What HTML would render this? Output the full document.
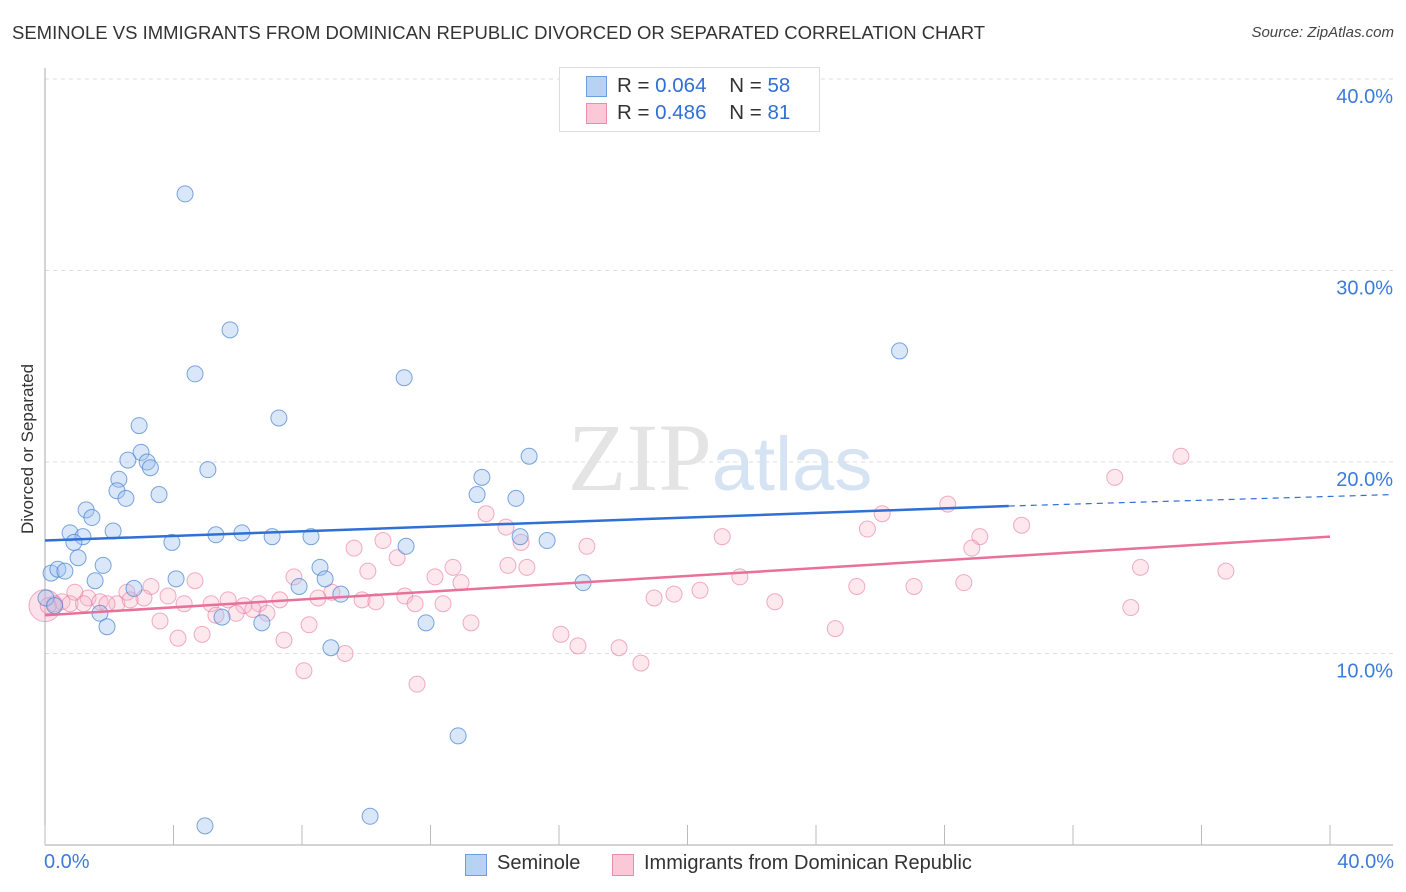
<!DOCTYPE html>
<html><head><meta charset="utf-8"><style>
body{margin:0;background:#fff;font-family:"Liberation Sans",sans-serif;}
#wrap{position:relative;width:1406px;height:892px;overflow:hidden;}
.t{position:absolute;white-space:nowrap;}
</style></head><body>
<div id="wrap">
<div class="t" style="left:12px;top:22px;font-size:18.5px;color:#333;">SEMINOLE VS IMMIGRANTS FROM DOMINICAN REPUBLIC DIVORCED OR SEPARATED CORRELATION CHART</div>
<div class="t" style="right:12px;top:24px;font-size:15px;color:#444;font-style:italic;">Source: ZipAtlas.com</div>
<svg id="svg" width="1406" height="892" style="position:absolute;left:0;top:0"></svg>
</div>
<script>
const blueX=[4.36,5.76,4.67,11.18,26.6,7.28,2.93,2.99,2.58,3.18,3.28,5.07,15.07,13.6,2.30,2.24,2.52,3.55,13.45,14.66,1.28,1.46,2.12,0.78,1.18,0.90,5.32,6.13,7.07,8.28,3.95,14.79,15.63,11.24,1.03,1.81,0.19,0.40,0.62,1.56,4.08,8.56,8.72,7.91,9.21,16.75,2.77,1.71,1.93,5.51,6.75,11.86,8.90,12.86,4.98,10.12,0.03,0.3];
const blueY=[34.0,26.9,24.6,24.4,25.8,22.3,21.9,20.5,20.1,20.0,19.7,19.6,20.3,19.2,19.1,18.5,18.1,18.3,18.3,18.1,17.5,17.1,16.4,16.3,16.1,15.8,16.2,16.3,16.1,16.1,15.8,16.1,15.9,15.6,15.0,14.6,14.2,14.4,14.3,13.8,13.9,14.5,13.9,13.5,13.1,13.7,13.4,12.1,11.4,11.9,11.6,11.6,10.3,5.7,1.0,1.5,12.9,12.5];
const pinkX=[35.36,33.3,28.1,26.06,25.6,30.4,29.1,28.85,21.08,13.73,14.35,14.82,16.87,10.52,9.62,10.96,14.41,15.0,12.70,10.05,12.14,12.95,7.75,34.1,36.76,21.63,28.6,27.05,25.27,20.39,19.58,18.96,22.72,33.8,24.6,8.93,11.2,7.31,8.5,9.87,10.3,11.52,12.39,4.67,3.30,2.55,3.83,3.08,1.34,0.93,1.71,2.24,1.93,5.70,6.66,4.33,5.17,6.19,6.47,6.91,5.95,5.32,3.58,8.22,13.26,4.14,4.89,7.44,16.06,16.59,17.87,18.55,9.34,8.06,11.58,0.53,0.78,0.3,1.2,2.65,0.1];
const pinkY=[20.3,19.2,17.8,17.3,16.5,16.7,16.1,15.5,16.1,17.3,16.6,15.8,15.6,15.9,15.5,15.0,14.6,14.5,14.5,14.3,14.0,13.7,14.0,14.5,14.3,14.0,13.7,13.5,13.5,13.3,13.1,12.9,12.7,12.4,11.3,13.2,13.0,12.8,12.9,12.8,12.7,12.6,12.6,13.8,13.5,13.2,13.0,12.9,12.9,13.2,12.7,12.6,12.6,12.8,12.6,12.6,12.6,12.5,12.3,12.1,12.1,12.0,11.7,11.5,11.6,10.8,11.0,10.7,11.0,10.4,10.3,9.5,10.0,9.1,8.4,12.7,12.6,12.6,12.6,12.8,12.5];
const yTicks=[10,20,30,40];
const blueLine=[15.9,17.7,18.3];
const pinkLine=[12.0,16.1];
const svg=document.getElementById('svg');const NS='http://www.w3.org/2000/svg';
const X=v=>45+v/40*1285, Y=v=>845-v/10*191.5;
function el(t,a,p){const e=document.createElementNS(NS,t);for(const k in a)e.setAttribute(k,a[k]);(p||svg).appendChild(e);return e;}
yTicks.forEach(v=>{const g=el('line',{x1:45,x2:1393,y1:Y(v),y2:Y(v),stroke:'#ddd','stroke-dasharray':'4,4'});


const t=el('text',{x:1393,y:Y(v)+24,'text-anchor':'end','font-size':20,fill:'#3d7bd9','font-family':'Liberation Sans'});t.textContent=v.toFixed(1)+'%';

});
el('line',{x1:45,x2:45,y1:68,y2:845,stroke:'#aaa'});
el('line',{x1:45,x2:1393,y1:845,y2:845,stroke:'#aaa'});
for(let i=0;i<=10;i++){const x=X(i*4);el('line',{x1:x,x2:x,y1:825,y2:845,stroke:'#bbb'});}
const wm=el('text',{x:720,y:490,'text-anchor':'middle','font-size':96,'font-family':'Liberation Serif',fill:'#e4e4e4'});wm.innerHTML='ZIP<tspan fill="#d6e3f3" font-family="Liberation Sans" font-size="76">atlas</tspan>';


el('circle',{cx:X(0),cy:Y(12.5),r:16,fill:'rgba(246,170,195,0.35)',stroke:'rgba(230,120,160,0.6)'});
pinkX.forEach((x,i)=>{const c=el('circle',{cx:X(x),cy:Y(pinkY[i]),r:8,fill:'rgba(248,180,200,0.3)',stroke:'rgba(232,120,160,0.6)','stroke-width':1});

});
blueX.forEach((x,i)=>{const c=el('circle',{cx:X(x),cy:Y(blueY[i]),r:8,fill:'rgba(160,195,240,0.4)',stroke:'rgba(70,130,210,0.7)','stroke-width':1});

});
const bl=el('line',{x1:X(0),y1:Y(blueLine[0]),x2:X(30),y2:Y(blueLine[1]),stroke:'#2f6fd6','stroke-width':2.5});


el('line',{x1:X(30),y1:Y(blueLine[1]),x2:1393,y2:Y(blueLine[2]),stroke:'#2f6fd6','stroke-width':1.2,'stroke-dasharray':'6,5'});
const pl=el('line',{x1:X(0),y1:Y(pinkLine[0]),x2:X(40),y2:Y(pinkLine[1]),stroke:'#e8709a','stroke-width':2.5});


</script>
<div class="t" style="left:-52px;top:444px;transform:rotate(-90deg);font-size:17px;color:#333;width:160px;text-align:center;">Divorced or Separated</div>
<div class="t" style="left:44px;top:851px;font-size:20px;color:#3d7bd9;">0.0%</div>
<div class="t" style="right:12px;top:851px;font-size:20px;color:#3d7bd9;">40.0%</div>
<div style="position:absolute;left:559px;top:67px;width:259px;height:63px;border:1px solid #ddd;background:#fff;font-size:20.5px;color:#333;">
<div style="position:absolute;left:26px;top:8px;width:19px;height:19px;background:#b8d2f4;border:1px solid #6d9de0;"></div>
<div class="t" style="left:57px;top:6px;">R = <span style="color:#2f6fd6">0.064</span>&nbsp;&nbsp;&nbsp; N = <span style="color:#2f6fd6">58</span></div>
<div style="position:absolute;left:26px;top:35px;width:19px;height:19px;background:#fbc8d8;border:1px solid #ea8cab;"></div>
<div class="t" style="left:57px;top:33px;">R = <span style="color:#2f6fd6">0.486</span>&nbsp;&nbsp;&nbsp; N = <span style="color:#2f6fd6">81</span></div>
</div>
<div style="position:absolute;left:465px;top:852px;font-size:20px;color:#333;">
<div style="position:absolute;left:0;top:2px;width:20px;height:20px;background:#b8d2f4;border:1px solid #6d9de0;"></div>
<div class="t" style="left:32px;top:0;">Seminole</div></div>
<div style="position:absolute;left:612px;top:852px;font-size:20px;color:#333;">
<div style="position:absolute;left:0;top:2px;width:20px;height:20px;background:#fbc8d8;border:1px solid #ea8cab;"></div>
<div class="t" style="left:32px;top:0;">Immigrants from Dominican Republic</div></div>
</body></html>
